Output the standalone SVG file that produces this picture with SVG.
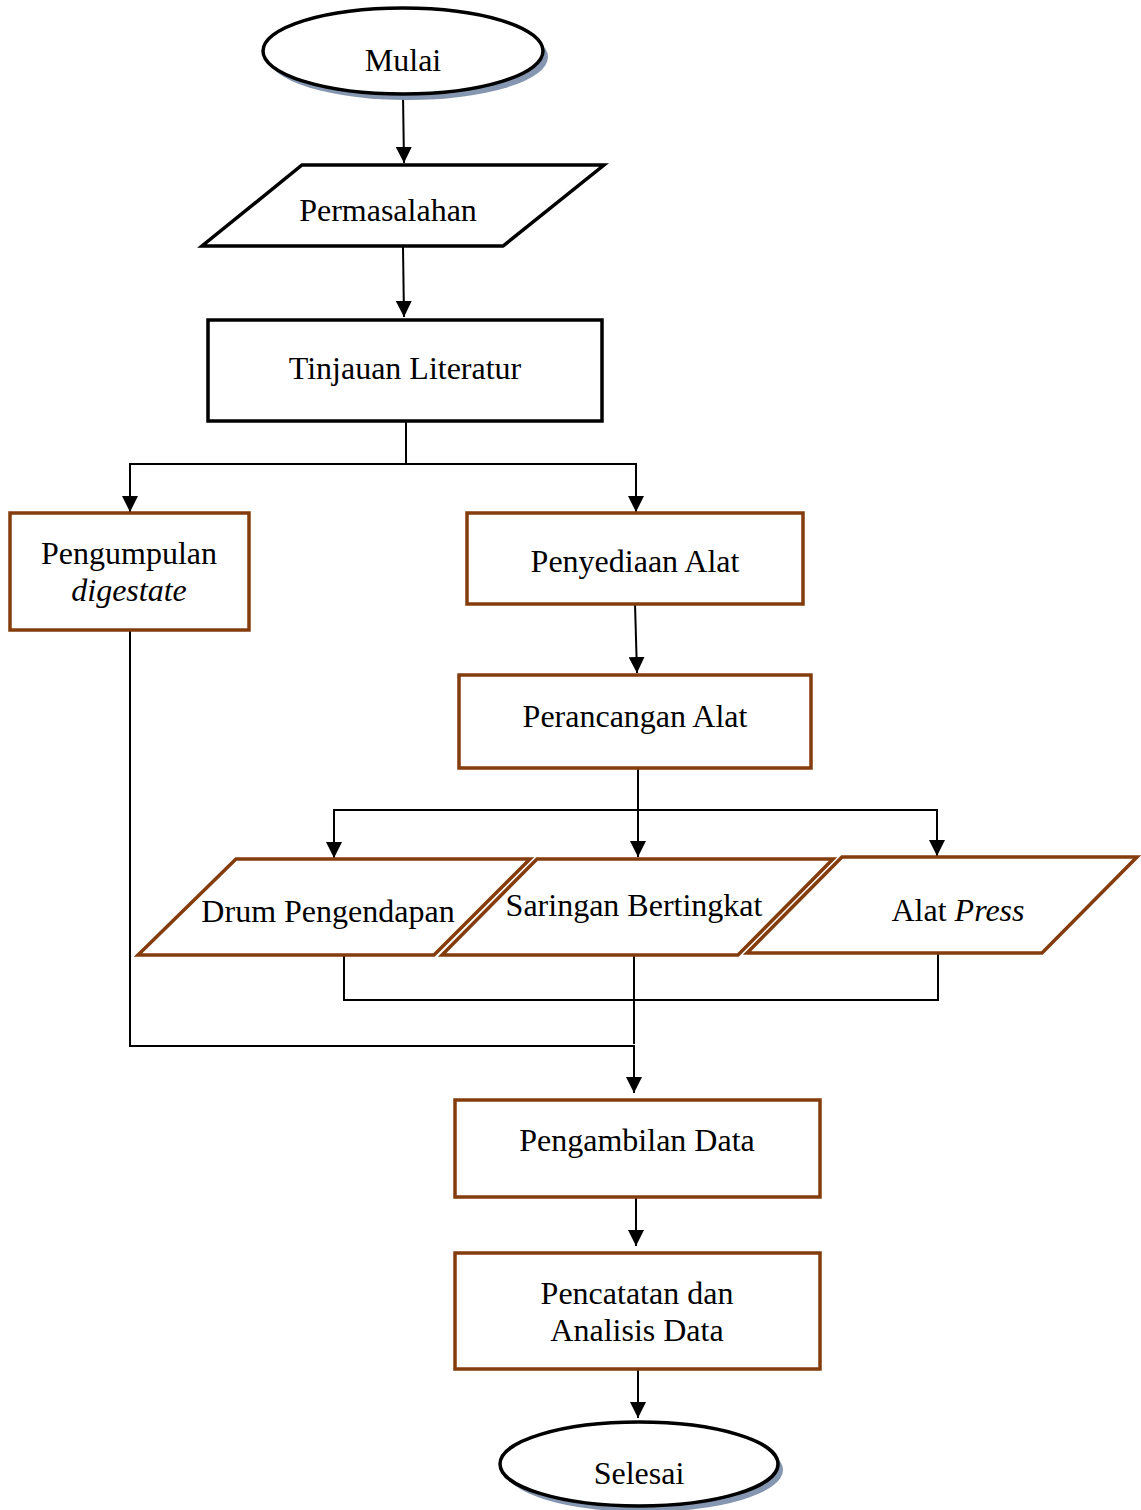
<svg xmlns="http://www.w3.org/2000/svg" width="1141" height="1510" viewBox="0 0 1141 1510">
<defs>
<style>
text{font-family:"Liberation Serif","Times New Roman",serif;font-size:32px;fill:#000;text-anchor:middle}
.b{fill:#fff;stroke:#000;stroke-width:3.5}
.r{fill:#fff;stroke:#843C0C;stroke-width:3.5}
.sh{fill:#8496B0}
.c{fill:none;stroke:#000;stroke-width:2}
</style>
<marker id="a" markerUnits="userSpaceOnUse" markerWidth="16" markerHeight="16" viewBox="0 0 16 16" refX="16" refY="8" orient="auto">
<path d="M0,0 L16,8 L0,16 Z" fill="#000"/>
</marker>
</defs>
<g id="connectors">
<path class="c" d="M403,95 L404,163" marker-end="url(#a)"/>
<path class="c" d="M403,247 L404,317" marker-end="url(#a)"/>
<path class="c" d="M406,421 V464 H130 V512" marker-end="url(#a)"/>
<path class="c" d="M406,464 H636 V512" marker-end="url(#a)"/>
<path class="c" d="M635,604 L637,673" marker-end="url(#a)"/>
<path class="c" d="M638,768 V810 H334 V858" marker-end="url(#a)"/>
<path class="c" d="M638,810 V857" marker-end="url(#a)"/>
<path class="c" d="M638,810 H937 V856" marker-end="url(#a)"/>
<path class="c" d="M344,956 V1000 H938 V954"/>
<path class="c" d="M634,956 V1044"/>
<path class="c" d="M130,630 V1046 H634 V1093" marker-end="url(#a)"/>
<path class="c" d="M636,1198 V1246" marker-end="url(#a)"/>
<path class="c" d="M638,1370 V1418" marker-end="url(#a)"/>
</g>
<g id="mulai">
<ellipse class="sh" cx="408" cy="57" rx="140" ry="43"/>
<ellipse class="b" cx="403" cy="51" rx="140" ry="43"/>
<text x="403" y="71">Mulai</text>
</g>
<g id="permasalahan">
<polygon class="b" points="302,165 604,165 503,246 202,246"/>
<text x="388" y="221">Permasalahan</text>
</g>
<g id="tinjauan">
<rect class="b" x="208" y="320" width="394" height="101"/>
<text x="405" y="379">Tinjauan Literatur</text>
</g>
<g id="pengumpulan">
<rect class="r" x="10" y="513" width="239" height="117"/>
<text x="129" y="564">Pengumpulan</text>
<text x="129" y="601" font-style="italic">digestate</text>
</g>
<g id="penyediaan">
<rect class="r" x="467" y="513" width="336" height="91"/>
<text x="635" y="572">Penyediaan Alat</text>
</g>
<g id="perancangan">
<rect class="r" x="459" y="675" width="352" height="93"/>
<text x="635" y="727">Perancangan Alat</text>
</g>
<g id="drum">
<polygon class="r" points="236,859 530,859 434,955 138,955"/>
<text x="328" y="922">Drum Pengendapan</text>
</g>
<g id="saringan">
<polygon class="r" points="537,859 833,859 738,955 442,955"/>
<text x="634" y="916">Saringan Bertingkat</text>
</g>
<g id="press">
<polygon class="r" points="842,857 1137,857 1042,953 747,953"/>
<text x="958" y="921">Alat <tspan font-style="italic">Press</tspan></text>
</g>
<g id="pengambilan">
<rect class="r" x="455" y="1100" width="365" height="97"/>
<text x="637" y="1151">Pengambilan Data</text>
</g>
<g id="pencatatan">
<rect class="r" x="455" y="1253" width="365" height="116"/>
<text x="637" y="1304">Pencatatan dan</text>
<text x="637" y="1341">Analisis Data</text>
</g>
<g id="selesai">
<ellipse class="sh" cx="644" cy="1470" rx="139" ry="42"/>
<ellipse class="b" cx="639" cy="1464" rx="139" ry="42"/>
<text x="639" y="1484">Selesai</text>
</g>
</svg>
